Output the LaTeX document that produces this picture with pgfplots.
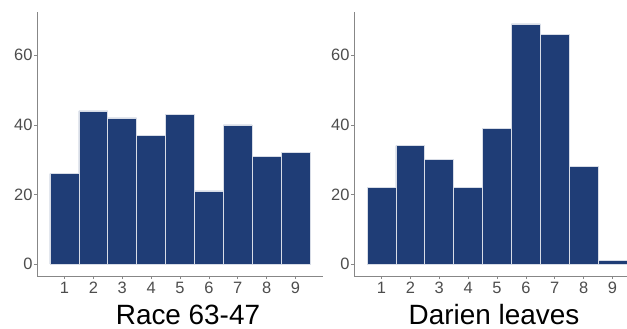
\documentclass[border=0pt]{standalone}
\usepackage{pgfplots}
\pgfplotsset{compat=1.18}
\usepackage{fontspec}
\setmainfont{Liberation Sans}
\definecolor{barblue}{RGB}{31,61,118}
\definecolor{axgrey}{RGB}{135,135,135}
\definecolor{tickgrey}{RGB}{77,77,77}
\definecolor{edgegrey}{RGB}{215,220,230}
\pgfplotsset{panel/.style={
  scale only axis, width=286bp, height=264bp, anchor=south west,
  xmin=0.05, xmax=9.95, ymin=-3.45, ymax=72.45,
  axis x line*=bottom, axis y line*=left,
  axis line style={axgrey, line width=0.9bp, -},
  xtick={1,...,9}, ytick={0,20,40,60},
  tick style={axgrey, line width=0.7bp},
  tick align=outside, major tick length=3bp,
  ticklabel style={font=\fontsize{16.5}{16.5}\selectfont, text=tickgrey},
  yticklabel style={xshift=2bp},
  /pgf/number format/assume math mode=true,
  xlabel style={font=\fontsize{28}{28}\selectfont, text=black, inner sep=0pt, at={(axis description cs:0.5,0)}, anchor=base, yshift=-48bp},
  clip=false,
}}
\begin{document}
\begin{tikzpicture}
\useasboundingbox (0,0) rectangle (627bp,329bp);
\clip (0,0) rectangle (627bp,329bp);
\begin{axis}[panel, at={(37bp,53bp)}, xlabel={Race 63-47}, xlabel style={xshift=8bp}]
\addplot[ybar, bar width=1, bar shift=0pt, fill=barblue, draw=edgegrey, line width=0.6bp]
  coordinates {(1,26) (2,44) (3,42) (4,37) (5,43) (6,21) (7,40) (8,31) (9,32)};
\end{axis}
\begin{axis}[panel, at={(354bp,53bp)}, xlabel={Darien leaves}, xlabel style={xshift=-3bp}]
\addplot[ybar, bar width=1, bar shift=0pt, fill=barblue, draw=edgegrey, line width=0.6bp]
  coordinates {(1,22) (2,34) (3,30) (4,22) (5,39) (6,69) (7,66) (8,28) (9,1)};
\end{axis}
\end{tikzpicture}
\end{document}
